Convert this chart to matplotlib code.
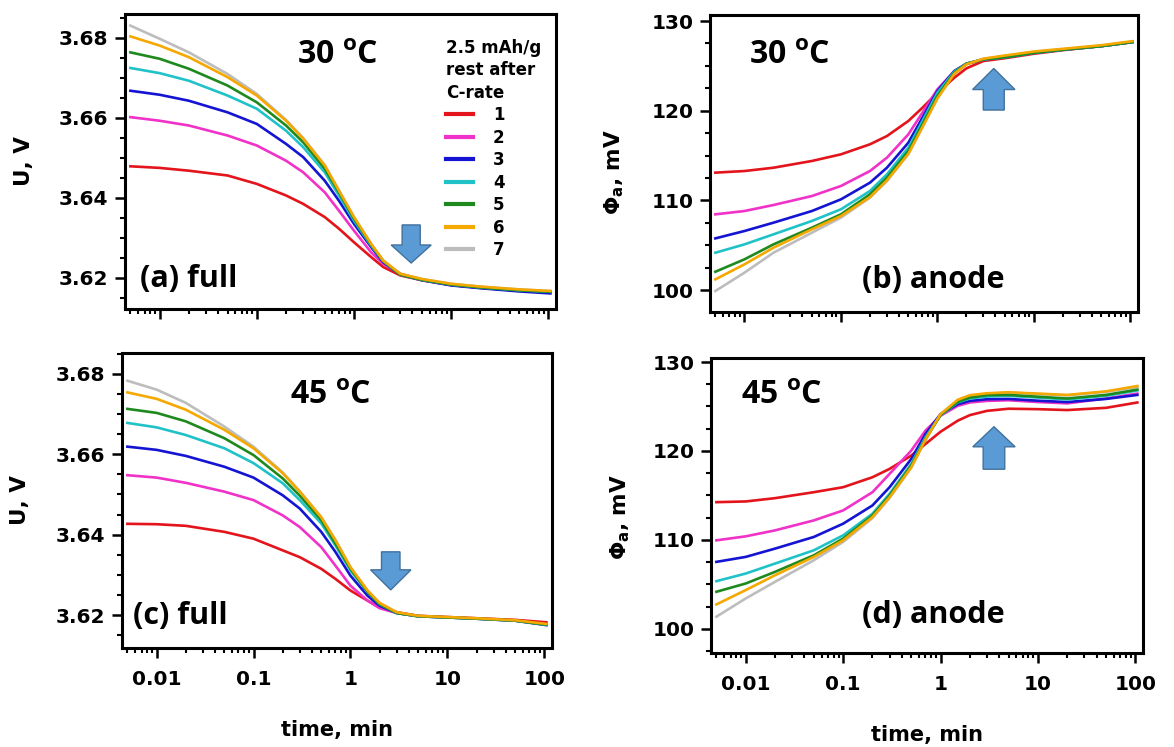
import numpy as np
import matplotlib
matplotlib.use("Agg")
import matplotlib.pyplot as plt
from matplotlib.ticker import FixedLocator, LogLocator, MultipleLocator, NullFormatter, FormatStrFormatter
from matplotlib.patches import FancyArrow

plt.rcParams["font.family"] = ["DejaVu Sans"]
plt.rcParams["font.weight"] = "bold"
plt.rcParams["mathtext.fontset"] = "custom"
plt.rcParams["mathtext.rm"] = "DejaVu Sans"
plt.rcParams["mathtext.bf"] = "Open Sans:bold"

# time grid (min) shared by all curves
time_min = [0.005, 0.01, 0.02, 0.05, 0.1, 0.2, 0.3, 0.5, 0.7, 1, 1.5, 2, 3, 5, 10, 20, 50, 105]

c_rates = ["1", "2", "3", "4", "5", "6", "7"]
colors = ["#E3141B", "#F032C8", "#1414D2", "#20C2C8", "#1E8A1E", "#F5A800", "#BDBDBD"]

# (a) full cell voltage, 30 C
u_30 = [
    [3.6479, 3.6475, 3.6468, 3.6456, 3.6435, 3.6406, 3.6385, 3.6352, 3.6323, 3.6289, 3.6252, 3.6227, 3.6206, 3.6194, 3.6182, 3.6175, 3.6168, 3.6164],
    [3.6602, 3.6593, 3.6581, 3.6556, 3.6531, 3.6493, 3.6464, 3.6414, 3.6368, 3.6318, 3.6264, 3.6235, 3.6210, 3.6195, 3.6182, 3.6175, 3.6168, 3.6163],
    [3.6668, 3.6658, 3.6643, 3.6614, 3.6585, 3.6535, 3.6502, 3.6443, 3.6393, 3.6335, 3.6277, 3.6239, 3.6208, 3.6194, 3.6181, 3.6174, 3.6166, 3.6161],
    [3.6725, 3.6712, 3.6693, 3.6656, 3.6623, 3.6568, 3.6527, 3.6464, 3.6406, 3.6343, 3.6281, 3.6242, 3.6208, 3.6195, 3.6183, 3.6176, 3.6169, 3.6165],
    [3.6764, 3.6748, 3.6723, 3.6681, 3.6639, 3.6581, 3.6539, 3.6473, 3.6414, 3.6348, 3.6283, 3.6242, 3.6208, 3.6195, 3.6183, 3.6176, 3.6169, 3.6165],
    [3.6804, 3.6781, 3.6752, 3.6702, 3.6656, 3.6593, 3.6548, 3.6481, 3.6418, 3.6352, 3.6285, 3.6243, 3.6210, 3.6197, 3.6185, 3.6178, 3.6171, 3.6167],
    [3.6831, 3.6798, 3.6764, 3.6710, 3.6660, 3.6595, 3.6550, 3.6482, 3.6419, 3.6352, 3.6285, 3.6243, 3.6210, 3.6197, 3.6185, 3.6178, 3.6171, 3.6167],
]

# (b) anode potential, 30 C
phi_30 = [
    [113.09, 113.27, 113.64, 114.39, 115.13, 116.25, 117.17, 118.85, 120.33, 122.00, 123.68, 124.72, 125.54, 125.85, 126.35, 126.75, 127.20, 127.65],
    [108.44, 108.81, 109.48, 110.48, 111.60, 113.27, 114.76, 117.36, 119.78, 122.38, 124.42, 125.24, 125.72, 125.95, 126.45, 126.80, 127.20, 127.65],
    [105.76, 106.58, 107.51, 108.81, 110.11, 111.97, 113.64, 116.43, 119.22, 122.19, 124.42, 125.24, 125.72, 125.95, 126.45, 126.80, 127.20, 127.65],
    [104.16, 105.09, 106.21, 107.70, 109.00, 111.04, 112.90, 115.87, 118.85, 122.00, 124.35, 125.24, 125.72, 125.95, 126.45, 126.80, 127.20, 127.65],
    [102.04, 103.42, 105.09, 106.95, 108.44, 110.67, 112.53, 115.50, 118.48, 121.64, 124.24, 125.24, 125.72, 125.95, 126.45, 126.80, 127.20, 127.65],
    [101.19, 102.86, 104.72, 106.77, 108.25, 110.37, 112.23, 115.20, 118.18, 121.38, 124.13, 125.17, 125.80, 126.15, 126.60, 126.90, 127.30, 127.75],
    [99.89, 101.93, 104.16, 106.39, 108.07, 110.30, 112.15, 115.15, 118.15, 121.35, 124.10, 125.15, 125.78, 126.10, 126.55, 126.85, 127.25, 127.70],
]

# (c) full cell voltage, 45 C
u_45 = [
    [3.6427, 3.6426, 3.6422, 3.6407, 3.6390, 3.6361, 3.6344, 3.6315, 3.6290, 3.6261, 3.6236, 3.6219, 3.6207, 3.6198, 3.6195, 3.6192, 3.6188, 3.6182],
    [3.6548, 3.6542, 3.6529, 3.6507, 3.6486, 3.6448, 3.6419, 3.6369, 3.6323, 3.6273, 3.6236, 3.6217, 3.6205, 3.6197, 3.6194, 3.6191, 3.6186, 3.6176],
    [3.6619, 3.6611, 3.6596, 3.6569, 3.6542, 3.6498, 3.6465, 3.6407, 3.6357, 3.6298, 3.6248, 3.6223, 3.6205, 3.6197, 3.6194, 3.6191, 3.6186, 3.6175],
    [3.6678, 3.6667, 3.6648, 3.6615, 3.6578, 3.6528, 3.6486, 3.6428, 3.6373, 3.6311, 3.6257, 3.6227, 3.6205, 3.6197, 3.6194, 3.6191, 3.6186, 3.6176],
    [3.6713, 3.6703, 3.6682, 3.6640, 3.6598, 3.6540, 3.6497, 3.6436, 3.6378, 3.6315, 3.6258, 3.6227, 3.6205, 3.6197, 3.6194, 3.6191, 3.6186, 3.6176],
    [3.6754, 3.6738, 3.6711, 3.6661, 3.6615, 3.6553, 3.6507, 3.6443, 3.6386, 3.6319, 3.6261, 3.6230, 3.6207, 3.6198, 3.6195, 3.6192, 3.6187, 3.6178],
    [3.6783, 3.6761, 3.6728, 3.6669, 3.6619, 3.6555, 3.6508, 3.6444, 3.6387, 3.6319, 3.6261, 3.6230, 3.6207, 3.6198, 3.6195, 3.6192, 3.6187, 3.6178],
]

# (d) anode potential, 45 C
phi_45 = [
    [114.25, 114.33, 114.70, 115.37, 115.93, 117.05, 117.99, 119.48, 120.78, 122.16, 123.40, 124.03, 124.51, 124.75, 124.70, 124.60, 124.85, 125.45],
    [109.96, 110.41, 111.08, 112.20, 113.32, 115.37, 117.43, 120.04, 122.28, 123.96, 125.07, 125.45, 125.63, 125.70, 125.50, 125.35, 125.90, 126.45],
    [107.54, 108.10, 109.03, 110.34, 111.83, 113.88, 115.93, 119.10, 121.90, 124.14, 125.26, 125.63, 125.82, 125.85, 125.65, 125.50, 125.85, 126.30],
    [105.37, 106.23, 107.35, 108.84, 110.52, 112.95, 115.19, 118.54, 121.53, 124.03, 125.45, 125.90, 126.12, 126.20, 126.00, 125.80, 126.20, 126.80],
    [104.18, 105.11, 106.42, 108.28, 110.15, 112.76, 115.00, 118.36, 121.34, 124.03, 125.52, 126.00, 126.27, 126.30, 126.10, 125.90, 126.30, 126.90],
    [102.76, 104.37, 106.04, 108.10, 109.96, 112.57, 114.81, 118.17, 121.27, 124.14, 125.75, 126.27, 126.49, 126.60, 126.45, 126.30, 126.70, 127.30],
    [101.38, 103.43, 105.30, 107.72, 109.78, 112.46, 114.72, 118.10, 121.20, 124.10, 125.70, 126.20, 126.42, 126.55, 126.40, 126.25, 126.65, 127.20],
]

W, H = 1174, 747
fig = plt.figure(figsize=(W / 100, H / 100), dpi=100)


def px_axes(left, top, right, bottom):
    return fig.add_axes([left / W, 1 - bottom / H, (right - left) / W, (bottom - top) / H])


ax_a = px_axes(125, 14, 556, 309)
ax_b = px_axes(710, 15, 1138, 312)
ax_c = px_axes(122, 353, 552, 648)
ax_d = px_axes(711, 358, 1143, 653)


def draw_curves(ax, series):
    lines = [None] * 7
    # gray drawn first so the others sit on top of it
    for i in [6, 0, 1, 2, 3, 4, 5]:
        (ln,) = ax.plot(time_min, series[i], color=colors[i], lw=1.9, label=c_rates[i])
        lines[i] = ln
    return lines


def style(ax, ylim, ymajor, yminor, yfmt, ylabel, label_x, label_y, bottom):
    ax.set_xscale("log")
    ax.set_xlim(0.0044, 120)
    ax.set_ylim(*ylim)
    ax.xaxis.set_major_locator(FixedLocator([0.01, 0.1, 1, 10, 100]))
    ax.xaxis.set_minor_locator(LogLocator(base=10, subs=np.arange(2, 10), numticks=20))
    ax.xaxis.set_minor_formatter(NullFormatter())
    ax.yaxis.set_major_locator(MultipleLocator(ymajor))
    ax.yaxis.set_minor_locator(MultipleLocator(yminor))
    ax.yaxis.set_major_formatter(FormatStrFormatter(yfmt))
    for s in ax.spines.values():
        s.set_linewidth(2.2)
    ax.tick_params(which="major", direction="out", length=7, width=1.8, labelsize=14.5, pad=5)
    ax.tick_params(which="minor", direction="out", length=3.8, width=1.5)
    ax.tick_params(axis="x", which="major", pad=9)
    if bottom:
        ax.set_xticklabels(["0.01", "0.1", "1", "10", "100"])
        ax.set_xlabel("time, min", fontsize=15, fontweight="bold")
        ax.xaxis.set_label_coords(0.5, -0.245)
        ax.xaxis.label.set_va("top")
    else:
        ax.tick_params(axis="x", labelbottom=False)
    ax.set_ylabel(ylabel, fontsize=15.5, fontweight="bold")
    ax.yaxis.set_label_coords(label_x, label_y)


def annotate(ax, temp, tx, ty, tag, gx, gy):
    ax.text(tx, ty, temp, transform=ax.transAxes, ha="center", va="baseline",
            fontsize=23, fontweight="bold", family="Open Sans")
    ax.text(gx, gy, tag, transform=ax.transAxes, ha="left", va="baseline",
            fontsize=22, fontweight="bold", family="Open Sans")


def block_arrow(ax, x, y, dy, w, hw, hl):
    ax.add_patch(FancyArrow(x, y, 0, dy, width=w, head_width=hw, head_length=hl,
                            length_includes_head=True, transform=ax.transAxes,
                            facecolor="#5B9BD5", edgecolor="#41719C", lw=1, zorder=5))


lines_a = draw_curves(ax_a, u_30)
draw_curves(ax_b, phi_30)
draw_curves(ax_c, u_45)
draw_curves(ax_d, phi_45)

style(ax_a, (3.6122, 3.686), 0.02, 0.005, "%.2f", "U, V", -0.21, 0.5, False)
style(ax_b, (97.55, 130.67), 10, 2.5, "%d", r"Φ$_\mathrm{a}$, mV", -0.196, 0.47, False)
style(ax_c, (3.6118, 3.6852), 0.02, 0.005, "%.2f", "U, V", -0.215, 0.5, True)
style(ax_d, (97.3, 130.45), 10, 2.5, "%d", r"Φ$_\mathrm{a}$, mV", -0.184, 0.46, True)

annotate(ax_a, r"30 $^{\mathbf{o}}$C", 0.494, 0.83, "(a) full", 0.035, 0.076)
annotate(ax_b, r"30 $^{\mathbf{o}}$C", 0.185, 0.835, "(b) anode", 0.355, 0.081)
annotate(ax_c, r"45 $^{\mathbf{o}}$C", 0.486, 0.827, "(c) full", 0.026, 0.082)
annotate(ax_d, r"45 $^{\mathbf{o}}$C", 0.163, 0.844, "(d) anode", 0.35, 0.10)

block_arrow(ax_a, 0.664, 0.285, -0.129, 0.042, 0.093, 0.061)
block_arrow(ax_b, 0.663, 0.680, 0.140, 0.049, 0.099, 0.071)
block_arrow(ax_c, 0.625, 0.326, -0.129, 0.043, 0.094, 0.068)
block_arrow(ax_d, 0.655, 0.623, 0.144, 0.050, 0.098, 0.068)

leg = ax_a.legend(handles=lines_a, title="2.5 mAh/g\nrest after\nC-rate", loc="upper left",
                  bbox_to_anchor=(0.745, 0.915), frameon=False, alignment="left",
                  prop={"size": 12, "weight": "bold"},
                  title_fontproperties={"size": 12, "weight": "bold"},
                  handlelength=1.6, handletextpad=1.2, labelspacing=0.27,
                  borderpad=0, borderaxespad=0)
leg.get_title().set_linespacing(1.31)
for h in leg.get_lines():
    h.set_linewidth(3)

fig.savefig("out.png", dpi=100)
